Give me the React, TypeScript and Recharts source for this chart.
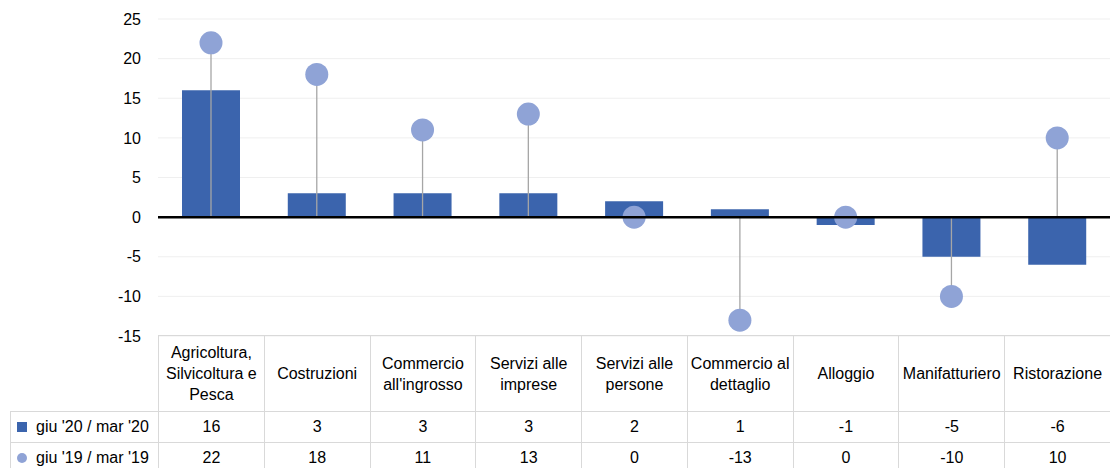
import React from "react";
import { ComposedChart, Bar, XAxis, YAxis, CartesianGrid, ReferenceLine } from "recharts";

const categories = [
  "Agricoltura,\nSilvicoltura e\nPesca",
  "Costruzioni",
  "Commercio\nall'ingrosso",
  "Servizi alle\nimprese",
  "Servizi alle\npersone",
  "Commercio al\ndettaglio",
  "Alloggio",
  "Manifatturiero",
  "Ristorazione",
];
const quarterChange = [16, 3, 3, 3, 2, 1, -1, -5, -6];
const yearChange = [22, 18, 11, 13, 0, -13, 0, -10, 10];
const seriesNames = ["giu '20 / mar '20", "giu '19 / mar '19"];
const yTicks = [-15, -10, -5, 0, 5, 10, 15, 20, 25];

const BAR_COLOR = "#3b64ad";
const DOT_COLOR = "#8fa3d6";
const GRID = "#d9d9d9";
const FONT = "'Liberation Sans', Arial, sans-serif";

const W = 1110;
const AXIS_W = 158;
const COL_W = (W - AXIS_W) / categories.length;

const data = categories.map((name, i) => ({
  name,
  q: quarterChange[i],
  y: yearChange[i],
}));

function Lollipop(props: any) {
  const { x, y, width, height, payload } = props;
  const cx = x + width / 2;
  const a = y;
  const b = y + height;
  const top = Math.min(a, b);
  const bottom = Math.max(a, b);
  const dotY = payload.y >= 0 ? top : bottom;
  return (
    <g>
      <line x1={cx} x2={cx} y1={top} y2={bottom} stroke="#a6a6a6" strokeWidth={1.3} />
      <circle cx={cx} cy={dotY} r={11.5} fill={DOT_COLOR} />
    </g>
  );
}

const cell: React.CSSProperties = {
  border: `1px solid ${GRID}`,
  textAlign: "center",
  padding: 0,
  fontSize: 16,
  color: "#000",
};

export default function App() {
  return (
    <div
      style={{
        position: "absolute",
        left: 0,
        top: 0,
        width: W,
        height: 468,
        overflow: "hidden",
        background: "#fff",
        fontFamily: FONT,
      }}
    >
      <ComposedChart
        width={W}
        height={360}
        data={data}
        margin={{ top: 19, right: 0, left: 0, bottom: 24 }}
        barGap={0}
      >
        <CartesianGrid vertical={false} stroke="#efefef" />
        <XAxis dataKey="name" hide />
        <XAxis xAxisId="dot" dataKey="name" hide />
        <YAxis
          domain={[-15, 25]}
          ticks={yTicks}
          width={AXIS_W}
          axisLine={false}
          tickLine={false}
          tickMargin={11}
          tick={{ fill: "#000", fontSize: 16, fontFamily: FONT }}
        />
        <Bar dataKey="q" fill={BAR_COLOR} barSize={58} isAnimationActive={false} />
        <ReferenceLine y={0} stroke="#000" strokeWidth={2.5} />
        <Bar
          dataKey="y"
          xAxisId="dot"
          barSize={4}
          shape={Lollipop}
          isAnimationActive={false}
        />
      </ComposedChart>
      <table
        style={{
          position: "absolute",
          left: 10,
          top: 335,
          borderCollapse: "collapse",
          tableLayout: "fixed",
          width: W - 10 + 1,
          fontFamily: FONT,
        }}
      >
        <colgroup>
          <col style={{ width: AXIS_W - 10 }} />
          {categories.map((c) => (
            <col key={c} style={{ width: COL_W }} />
          ))}
        </colgroup>
        <tbody>
          <tr style={{ height: 76 }}>
            <td style={{ ...cell, borderTop: "none", borderLeft: "none" }} />
            {categories.map((c) => (
              <td key={c} style={{ ...cell, lineHeight: "21px", whiteSpace: "pre-line" }}>
                {c}
              </td>
            ))}
          </tr>
          {[quarterChange, yearChange].map((row, r) => (
            <tr key={r} style={{ height: 31 }}>
              <td style={{ ...cell, textAlign: "left", whiteSpace: "nowrap" }}>
                <span
                  style={{
                    display: "inline-block",
                    width: 10,
                    height: 10,
                    marginLeft: 6,
                    marginRight: 9,
                    background: r === 0 ? BAR_COLOR : DOT_COLOR,
                    borderRadius: r === 0 ? 0 : "50%",
                  }}
                />
                {seriesNames[r]}
              </td>
              {row.map((v, i) => (
                <td key={i} style={cell}>
                  {v}
                </td>
              ))}
            </tr>
          ))}
        </tbody>
      </table>
    </div>
  );
}
